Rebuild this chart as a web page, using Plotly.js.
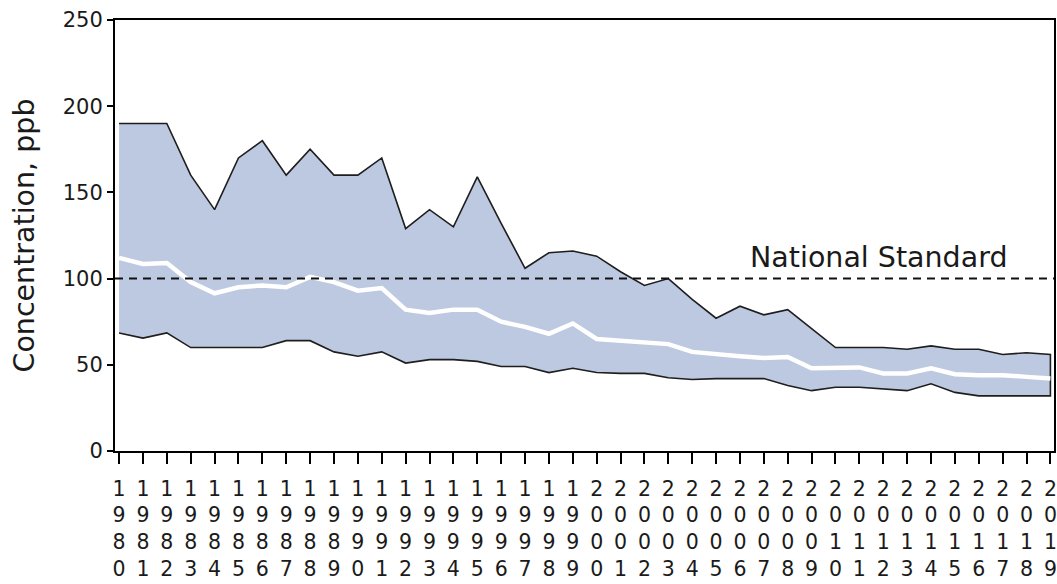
<!DOCTYPE html>
<html>
<head>
<meta charset="utf-8">
<script src="https://cdn.plot.ly/plotly-3.0.1.min.js"></script>
<style>html,body{margin:0;padding:0;background:#fff;}#chart{width:1057px;height:584px;}</style>
</head>
<body>
<div id="chart"></div>
<script>
const years = [1980,1981,1982,1983,1984,1985,1986,1987,1988,1989,
               1990,1991,1992,1993,1994,1995,1996,1997,1998,1999,
               2000,2001,2002,2003,2004,2005,2006,2007,2008,2009,
               2010,2011,2012,2013,2014,2015,2016,2017,2018,2019];
const maxValues = [190,190,190,160,140,170,180,160,175,160,
                   160,170,129,140,130,159,132,106,115,116,
                   113,104,96,100,88,77,84,79,82,71,
                   60,60,60,59,61,59,59,56,57,56];
const medianValues = [112,108.5,109,98,91.5,95,96,95,101,98,
                      93,94.5,82,80,82,82,75,72,68,74,
                      65,64,62.5,62,57.5,56,55,54,54.5,48,
                      48.5,48.5,45,45,48,44.5,44,44,43,42];
const minValues = [68.5,65.5,68.5,60,60,60,60,64,64,57.5,
                   55,57.5,51,53,53,52,49,49,45.5,48,
                   45.5,45,45,42.5,41.5,42,42,42,38,35,
                   37,37,36,35,39,34,32,32,32,32];
const standardValue = 100;
const standardLabel = "National Standard";
const yTitle = "Concentration, ppb";
const tickLabels = years.map(y => String(y).split("").join("<br>"));

const bandX = years.concat(years.slice().reverse());
const bandY = maxValues.concat(minValues.slice().reverse());

const traces = [
  {x: bandX, y: bandY, type: "scatter", mode: "lines", fill: "toself",
   fillcolor: "#bcc9e0", line: {color: "#1e1e1e", width: 1.6}, hoverinfo: "skip"},
  {x: years, y: medianValues, type: "scatter", mode: "lines",
   line: {color: "#ffffff", width: 4.5}}
];

const font = "DejaVu Sans, Verdana, sans-serif";
const layout = {
  width: 1057, height: 584,
  margin: {l: 115, r: 3, t: 20, b: 133},
  paper_bgcolor: "#ffffff", plot_bgcolor: "#ffffff",
  showlegend: false,
  font: {family: font, color: "#1a1a1a", size: 21},
  xaxis: {
    range: [1979.83, 2019.15], tickmode: "array", tickvals: years, ticktext: tickLabels,
    ticks: "outside", ticklen: 11, tickwidth: 2, tickcolor: "#000",
    showline: true, linecolor: "#000", linewidth: 2, mirror: true,
    showgrid: false, zeroline: false, tickangle: 0, ticklabelstandoff: 7,
    tickfont: {family: font, size: 20.5, color: "#1a1a1a"}
  },
  yaxis: {
    range: [0, 250], tickvals: [0,50,100,150,200,250],
    ticks: "outside", ticklen: 6, tickwidth: 2, tickcolor: "#000",
    showline: true, linecolor: "#000", linewidth: 2, mirror: true,
    showgrid: false, zeroline: false,
    tickfont: {family: font, size: 21, color: "#1a1a1a"},
    title: {text: yTitle, font: {family: font, size: 28.5, color: "#1a1a1a"}, standoff: 20}
  },
  shapes: [
    {type: "line", xref: "paper", yref: "y", x0: 0, x1: 1, y0: standardValue, y1: standardValue,
     line: {color: "#111", width: 2, dash: "8px,6px"}}
  ],
  annotations: [
    {x: 2011.8, y: standardValue, xref: "x", yref: "y", text: standardLabel, showarrow: false,
     yanchor: "bottom", yshift: 3, font: {family: font, size: 28.5, color: "#1a1a1a"}}
  ]
};

Plotly.newPlot("chart", traces, layout, {displayModeBar: false, staticPlot: true});
</script>
</body>
</html>
